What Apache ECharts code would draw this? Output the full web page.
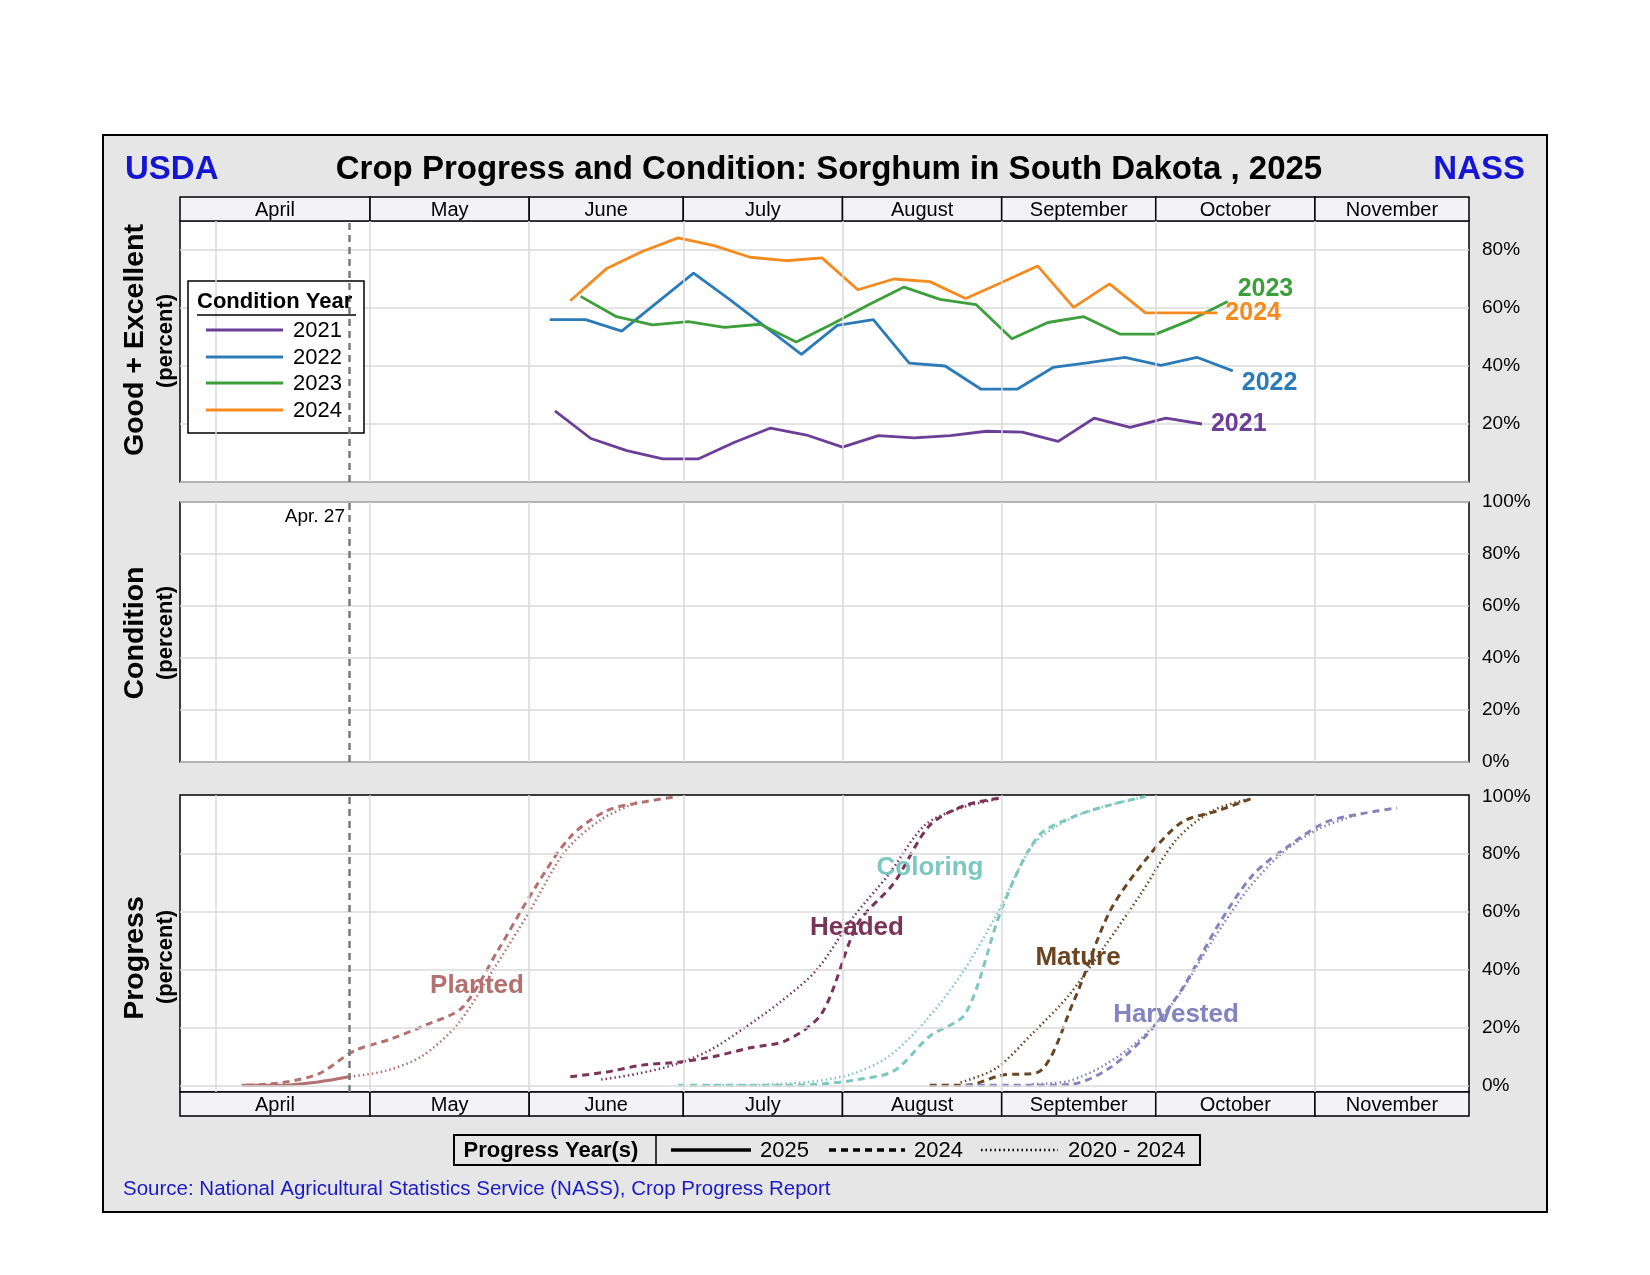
<!DOCTYPE html>
<html><head><meta charset="utf-8">
<script src="https://cdn.jsdelivr.net/npm/echarts@6/dist/echarts.min.js"></script>
<style>
html,body{margin:0;padding:0;background:#fff;}
#frame{position:absolute;left:102px;top:134px;width:1446px;height:1079px;box-sizing:border-box;border:2px solid #000;background:#e6e6e6;}
#c{position:absolute;left:0;top:0;width:1650px;height:1275px;}
</style></head>
<body><div id="frame"></div><div id="c"></div>
<script>
// ---------------- DATA ----------------
const axisStart = '2025-03-25', axisEnd = '2025-12-01';
const markDate = '2025-04-27';
const monthNames = ['April','May','June','July','August','September','October','November'];
const monthStarts = ['2025-04-01','2025-05-01','2025-06-01','2025-07-01','2025-08-01','2025-09-01','2025-10-01','2025-11-01'];
const condTicks = [20,40,60,80];
const progTicks = [0,20,40,60,80,100];

// Condition: Good + Excellent (percent), plotted at each year's week-ending month/day
const condYears = ['2021','2022','2023','2024'];
const condDates2021 = ['06-06','06-13','06-20','06-27','07-04','07-11','07-18','07-25','08-01','08-08','08-15','08-22','08-29','09-05','09-12','09-19','09-26','10-03','10-10'];
const cond2021 = [24.5,15,10.8,8,8,13.7,18.6,16.2,12,16,15.2,16,17.5,17.2,14,22,18.8,22,20];
const condDates2022 = ['06-05','06-12','06-19','06-26','07-03','07-10','07-17','07-24','07-31','08-07','08-14','08-21','08-28','09-04','09-11','09-18','09-25','10-02','10-09','10-16'];
const cond2022 = [56,56,52,62,72,63,53.5,44,54,56,41,40,32,32,39.5,41.2,43,40.2,43,38.3];
const condDates2023 = ['06-11','06-18','06-25','07-02','07-09','07-16','07-23','07-30','08-06','08-13','08-20','08-27','09-03','09-10','09-17','09-24','10-01','10-08','10-15'];
const cond2023 = [64,57,54.2,55.3,53.3,54.4,48.3,54.5,61,67.2,63,61.2,49.4,55,57,51,51,56,62.2];
const condDates2024 = ['06-09','06-16','06-23','06-30','07-07','07-14','07-21','07-28','08-04','08-11','08-18','08-25','09-01','09-08','09-15','09-22','09-29','10-06','10-13'];
const cond2024 = [62.5,73.5,79.5,84.2,81.5,77.5,76.3,77.3,66.3,70,69.1,63.3,68.8,74.5,60.2,68.3,58.3,58.3,58.3];

// Progress (percent)
const stages = ['Planted','Headed','Coloring','Mature','Harvested'];
const plantedDates2025 = ['04-06','04-13','04-20','04-27'];
const planted2025 = [0,0,1,3];
const plantedDates2024 = ['04-07','04-14','04-21','04-28','05-05','05-12','05-19','05-26','06-02','06-09','06-16','06-23','06-30'];
const planted2024 = [0,1,4,12,16,21,27,47,68,86,95,98,100];
const plantedDatesAvg = ['04-27','05-04','05-11','05-18','05-25','06-01','06-08','06-15','06-22'];
const plantedAvg = [3,5,10,21,40,60,81,92,98];

const headedDates2024 = ['06-09','06-16','06-23','06-30','07-07','07-14','07-21','07-28','08-04','08-11','08-18','08-25','09-01'];
const headed2024 = [3,4.6,7,8,10,13,15.5,25,56,70,90,97,99.5];
const headedDatesAvg = ['06-15','06-22','06-29','07-06','07-13','07-20','07-27','08-03','08-10','08-17','08-24','08-31'];
const headedAvg = [2,4,7,12,20,29,40,58,73,90,96,99];

const coloringDates2024 = ['06-30','07-07','07-14','07-21','07-28','08-04','08-11','08-18','08-25','09-01','09-08','09-15','09-22','09-29'];
const coloring2024 = [0,0,0,0,0.5,2,5,17,25,61,86,93,97,100];
const coloringDatesAvg = ['07-06','07-13','07-20','07-27','08-03','08-10','08-17','08-24','08-31','09-07','09-14','09-21','09-28'];
const coloringAvg = [0,0,0.5,1.5,4,10,22,38,59,83,92,96.5,99.5];

const matureDates2024 = ['08-18','08-25','09-01','09-08','09-15','09-22','09-29','10-06','10-13','10-20'];
const mature2024 = [0,0,3.5,4.5,29,60,78,91,95,99.5];
const matureDatesAvg = ['08-24','08-31','09-07','09-14','09-21','09-28','10-05','10-12','10-19'];
const matureAvg = [1,6,18,31,48,66,85,95,99];

const harvestedDates2024 = ['08-25','09-01','09-08','09-15','09-22','09-29','10-06','10-13','10-20','10-27','11-03','11-10','11-17'];
const harvested2024 = [0,0,0,0.5,6,17,33,55,73,83,91,94,96];
const harvestedDatesAvg = ['09-07','09-14','09-21','09-28','10-05','10-12','10-19','10-26','11-02','11-09'];
const harvestedAvg = [0.5,1.5,7,16,30,50,68,81,89,93.5];

// ---------------- STYLE ----------------
const FF = '"Liberation Sans", Arial, sans-serif';
const condColors = {'2021':'#6b3f98','2022':'#2b7bb9','2023':'#3c9f3c','2024':'#f58a1f'};
const stageColors = {Planted:'#b4706f',Headed:'#7a3359',Coloring:'#7cc7bf',Mature:'#6b4522',Harvested:'#8383bd'};
const GRID = '#dadada';

const ts = s => { const p = s.split('-').map(Number); return Date.UTC(p[0], p[1]-1, p[2]); };
const pairs = (dates, vals) => dates.map((d,i) => [ts('2025-' + d), vals[i]]);

const L = 180, W = 1289;
const grids = [
  {left:L, width:W, top:197, height:24},
  {left:L, width:W, top:221, height:261, show:true, backgroundColor:'#fff', borderColor:'#000', borderWidth:1.5},
  {left:L, width:W, top:502, height:260, show:true, backgroundColor:'#fff', borderColor:'#000', borderWidth:1.5},
  {left:L, width:W, top:795, height:297, show:true, backgroundColor:'#fff', borderColor:'#000', borderWidth:1.5},
  {left:L, width:W, top:1092, height:24}
];
const xAxes = grids.map((g,i) => ({type:'time', gridIndex:i, min:ts(axisStart), max:ts(axisEnd),
  axisLine:{show:false}, axisTick:{show:false}, axisLabel:{show:false}, splitLine:{show:false}}));
const ylab = {color:'#000', fontSize:19, fontFamily:FF, margin:13, showMinLabel:true, showMaxLabel:true};
const yAxes = [
  {gridIndex:0, min:0, max:1, show:false},
  {gridIndex:1, type:'value', position:'right', min:0, max:90, interval:20, axisLine:{show:false}, axisTick:{show:false},
   axisLabel:Object.assign({}, ylab, {formatter: v => condTicks.indexOf(v) >= 0 ? v + '%' : ''}), splitLine:{lineStyle:{color:GRID, width:1.5}}},
  {gridIndex:2, type:'value', position:'right', min:0, max:100, interval:20, axisLine:{show:false}, axisTick:{show:false},
   axisLabel:Object.assign({}, ylab, {formatter: v => v + '%'}), splitLine:{lineStyle:{color:GRID, width:1.5}}},
  {gridIndex:3, type:'value', position:'right', min:-2.3, max:100.5, axisLine:{show:false}, axisTick:{show:false},
   axisLabel:Object.assign({}, ylab, {customValues: progTicks, formatter: v => v + '%'}), splitLine:{show:false}},
  {gridIndex:4, min:0, max:1, show:false}
];

function headerRender(params, api) {
  const a = api.coord([api.value(0), 1]);
  const b = api.coord([api.value(1), 0]);
  return {type:'group', children:[
    {type:'rect', shape:{x:a[0], y:a[1], width:b[0]-a[0], height:b[1]-a[1]}, style:{fill:'#f3f3f7', stroke:'#000', lineWidth:1.5}},
    {type:'text', style:{text:monthNames[params.dataIndex], x:(a[0]+b[0])/2, y:(a[1]+b[1])/2+1, textAlign:'center', textVerticalAlign:'middle', font:'20px ' + FF, fill:'#000'}}
  ]};
}
const headerData = monthNames.map((n,i) => [i === 0 ? ts(axisStart) : ts(monthStarts[i]), i < monthNames.length-1 ? ts(monthStarts[i+1]) : ts(axisEnd), 0.5]);

const series = [];
[0,4].forEach(k => series.push({type:'custom', xAxisIndex:k, yAxisIndex:k, renderItem:headerRender, data:headerData, encode:{x:[0,1], y:2}, silent:true, z:3}));
[1,2,3].forEach(k => {
  const ml = monthStarts.map(d => ({xAxis: ts(d)}));
  if (k === 3) progTicks.filter(v => v < 100).forEach(v => ml.push({yAxis: v}));
  series.push({type:'line', xAxisIndex:k, yAxisIndex:k, data:[], z:1, silent:true,
    markLine:{silent:true, symbol:['none','none'], label:{show:false}, lineStyle:{color:GRID, width:1.5, type:'solid'}, data:ml}});
  series.push({type:'line', xAxisIndex:k, yAxisIndex:k, data:[], z:5, silent:true,
    markLine:{silent:true, symbol:['none','none'], label:{show:false}, lineStyle:{color:'#7a7a7a', width:2.5, type:[7,5]}, data:[{xAxis: ts(markDate)}]}});
});

const condSets = {'2021':[condDates2021,cond2021],'2022':[condDates2022,cond2022],'2023':[condDates2023,cond2023],'2024':[condDates2024,cond2024]};
const endOff = {'2021':[4,0],'2022':[4,12],'2023':[5,-13],'2024':[3,0]};
condYears.forEach(y => {
  series.push({name:y, type:'line', xAxisIndex:1, yAxisIndex:1, data:pairs(condSets[y][0], condSets[y][1]),
    symbol:'none', z:4, lineStyle:{color:condColors[y], width:2.8}, itemStyle:{color:condColors[y]},
    endLabel:{show:true, formatter:'{a}', color:condColors[y], fontSize:25, fontWeight:'bold', fontFamily:FF, offset:endOff[y], distance:5}});
});

const progSets = [
  ['Planted','2025',plantedDates2025,planted2025],
  ['Planted','2024',plantedDates2024,planted2024],['Planted','avg',plantedDatesAvg,plantedAvg],
  ['Headed','2024',headedDates2024,headed2024],['Headed','avg',headedDatesAvg,headedAvg],
  ['Coloring','2024',coloringDates2024,coloring2024],['Coloring','avg',coloringDatesAvg,coloringAvg],
  ['Mature','2024',matureDates2024,mature2024],['Mature','avg',matureDatesAvg,matureAvg],
  ['Harvested','2024',harvestedDates2024,harvested2024],['Harvested','avg',harvestedDatesAvg,harvestedAvg]
];
const lineTypes = {'2025':{type:'solid', width:3}, '2024':{type:[7,5], width:3}, 'avg':{type:[1.5,3], width:2.5}};
progSets.forEach(s => {
  series.push({name:s[0]+' '+s[1], type:'line', xAxisIndex:3, yAxisIndex:3, data:pairs(s[2], s[3]), symbol:'none', smooth:0.3, z:4,
    lineStyle:{color:stageColors[s[0]], width:lineTypes[s[1]].width, type:lineTypes[s[1]].type}});
});

// ---------------- GRAPHIC (texts, legends) ----------------
const T = (text, x, y, font, fill, align, extra) => Object.assign({type:'text', x:x, y:y, z:20,
  style:{text:text, font:font, fill:fill || '#000', textAlign:align || 'left', textVerticalAlign:'middle'}}, extra || {});
const graphic = [
  T('USDA', 125, 170, 'bold 33px ' + FF, '#1414d2'),
  T('Crop Progress and Condition: Sorghum in South Dakota , 2025', 829, 170, 'bold 33px ' + FF, '#000', 'center'),
  T('NASS', 1525, 170, 'bold 33px ' + FF, '#1414d2', 'right'),
  T('Good + Excellent', 135, 340, 'bold 28.5px ' + FF, '#000', 'center', {rotation:Math.PI/2}),
  T('(percent)', 166, 341, 'bold 22px ' + FF, '#000', 'center', {rotation:Math.PI/2}),
  T('Condition', 135, 633, 'bold 28.5px ' + FF, '#000', 'center', {rotation:Math.PI/2}),
  T('(percent)', 166, 633, 'bold 22px ' + FF, '#000', 'center', {rotation:Math.PI/2}),
  T('Progress', 135, 958, 'bold 28.5px ' + FF, '#000', 'center', {rotation:Math.PI/2}),
  T('(percent)', 166, 957, 'bold 22px ' + FF, '#000', 'center', {rotation:Math.PI/2}),
  T('Apr. 27', 345, 517, '19px ' + FF, '#000', 'right'),
  T('Source: National Agricultural Statistics Service (NASS), Crop Progress Report', 123, 1189, '20.5px ' + FF, '#1a1ac8'),
  // stage labels
  T('Planted', 477, 986, 'bold 26px ' + FF, stageColors.Planted, 'center'),
  T('Headed', 857, 928, 'bold 26px ' + FF, stageColors.Headed, 'center'),
  T('Coloring', 930, 868, 'bold 26px ' + FF, stageColors.Coloring, 'center'),
  T('Mature', 1078, 958, 'bold 26px ' + FF, stageColors.Mature, 'center'),
  T('Harvested', 1176, 1015, 'bold 26px ' + FF, stageColors.Harvested, 'center'),
  // condition legend
  {type:'rect', z:2, shape:{x:188, y:281, width:176, height:152}, style:{fill:'#fff', stroke:'#000', lineWidth:1.5}},
  T('Condition Year', 197, 302, 'bold 22px ' + FF),
  {type:'line', z:20, shape:{x1:197, y1:315, x2:356, y2:315}, style:{stroke:'#000', lineWidth:1.5}},
  // progress legend
  {type:'rect', z:2, shape:{x:454, y:1135, width:746, height:30}, style:{fill:'#e6e6e6', stroke:'#000', lineWidth:2}},
  T('Progress Year(s)', 551, 1151, 'bold 22px ' + FF, '#000', 'center'),
  {type:'line', z:20, shape:{x1:656, y1:1135, x2:656, y2:1165}, style:{stroke:'#000', lineWidth:1.5}},
  {type:'line', z:20, shape:{x1:671, y1:1150, x2:751, y2:1150}, style:{stroke:'#000', lineWidth:3.5}},
  T('2025', 760, 1151, '22px ' + FF),
  {type:'line', z:20, shape:{x1:829, y1:1150, x2:905, y2:1150}, style:{stroke:'#000', lineWidth:3.5, lineDash:[7,5]}},
  T('2024', 914, 1151, '22px ' + FF),
  {type:'line', z:20, shape:{x1:981, y1:1150, x2:1058, y2:1150}, style:{stroke:'#000', lineWidth:2.5, lineDash:[1.5,3]}},
  T('2020 - 2024', 1068, 1151, '22px ' + FF)
];
const legY = [330, 357, 383, 410];
condYears.forEach((y,i) => {
  graphic.push({type:'line', z:20, shape:{x1:206, y1:legY[i], x2:283, y2:legY[i]}, style:{stroke:condColors[y], lineWidth:2.8}});
  graphic.push(T(y, 293, legY[i] + 1, '22px ' + FF));
});

const chart = echarts.init(document.getElementById('c'), null, {renderer:'canvas'});
chart.setOption({
  animation:false,
  backgroundColor:'transparent',
  grid:grids, xAxis:xAxes, yAxis:yAxes, series:series, graphic:graphic
});
</script></body></html>
